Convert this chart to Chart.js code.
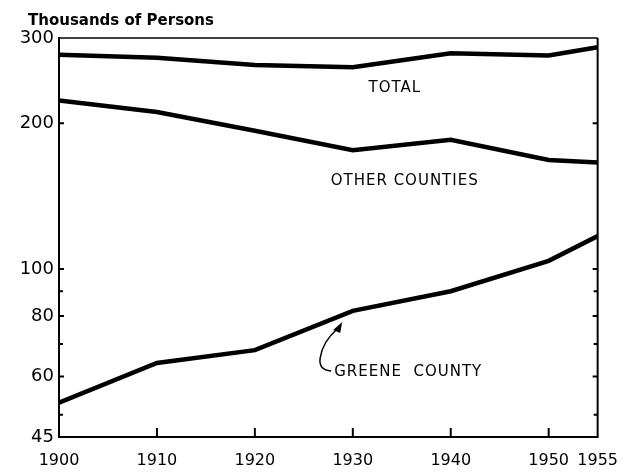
<!DOCTYPE html>
<html>
<head>
<meta charset="utf-8">
<script src="https://cdn.jsdelivr.net/npm/chart.js@4/dist/chart.umd.min.js"></script>
<style>
  html, body { margin: 0; padding: 0; background: #fff; }
  #wrap { width: 632px; height: 474px; }
</style>
</head>
<body>
<div id="wrap"><canvas id="myChart" width="632" height="474"></canvas></div>
<script>
// population, thousands of persons
const years = [1900, 1910, 1920, 1930, 1940, 1950, 1955];
const total = [277, 273, 264, 261, 279, 276, 287];
const otherCounties = [223, 211, 193, 176, 185, 168, 166];
const greeneCounty = [53, 64, 68, 82, 90, 104, 117];

const yTickValues = [45, 50, 60, 70, 80, 90, 100, 200, 300];
const yTickLabels = [45, 60, 80, 100, 200, 300];
const xTickValues = [1900, 1910, 1920, 1930, 1940, 1950, 1955];

// in-plot labels, positioned in data units
const seriesLabels = [
  { text: 'TOTAL', x: 1934.3, y: 236, align: 'center' },
  { text: 'OTHER COUNTIES', x: 1935.3, y: 152, align: 'center' },
  { text: 'GREENE  COUNTY', x: 1928.1, y: 61.3, align: 'left' }
];

const toPoints = (vals) => years.map((yr, i) => ({ x: yr, y: vals[i] }));

const lineStyle = {
  borderColor: '#000',
  borderWidth: 4.5,
  pointRadius: 0,
  tension: 0,
  fill: false
};

const chartDecor = {
  id: 'chartDecor',
  afterDraw(chart) {
    const ctx = chart.ctx;
    const area = chart.chartArea;
    const xs = chart.scales.x;
    const ys = chart.scales.y;
    ctx.save();
    ctx.strokeStyle = '#000';
    ctx.fillStyle = '#000';

    // top and right frame
    ctx.lineWidth = 1.5;
    ctx.beginPath();
    ctx.moveTo(area.left, area.top);
    ctx.lineTo(area.right, area.top);
    ctx.stroke();
    ctx.lineWidth = 2;
    ctx.beginPath();
    ctx.moveTo(area.right, area.top);
    ctx.lineTo(area.right, area.bottom + 1);
    ctx.stroke();

    // inward tick marks on both sides
    ctx.lineWidth = 2;
    yTickValues.forEach(v => {
      if (v === 45 || v === 300) return;
      const py = ys.getPixelForValue(v);
      const len = yTickLabels.includes(v) ? 5 : 4;
      ctx.beginPath();
      ctx.moveTo(area.left, py);
      ctx.lineTo(area.left + len, py);
      ctx.moveTo(area.right, py);
      ctx.lineTo(area.right - len, py);
      ctx.stroke();
    });
    xTickValues.forEach(v => {
      if (v === 1900 || v === 1955) return;
      const px = xs.getPixelForValue(v);
      ctx.beginPath();
      ctx.moveTo(px, area.bottom);
      ctx.lineTo(px, area.bottom - 9);
      ctx.stroke();
    });

    // title
    ctx.font = 'bold 15px "DejaVu Sans"';
    ctx.textAlign = 'left';
    ctx.textBaseline = 'alphabetic';
    ctx.fillText('Thousands of Persons', 28, 25);

    // series labels
    ctx.font = '15px "DejaVu Sans"';
    ctx.letterSpacing = '1px';
    ctx.textBaseline = 'middle';
    seriesLabels.forEach(l => {
      ctx.textAlign = l.align;
      ctx.fillText(l.text, xs.getPixelForValue(l.x), ys.getPixelForValue(l.y));
    });
    ctx.letterSpacing = '0px';

    // curved arrow from GREENE COUNTY to its line
    const g = seriesLabels[2];
    const ax = xs.getPixelForValue(g.x);
    const ay = ys.getPixelForValue(g.y);
    ctx.lineWidth = 1.5;
    ctx.beginPath();
    ctx.moveTo(ax - 3, ay - 1);
    ctx.quadraticCurveTo(ax - 16, ay - 2, ax - 14, ay - 14);
    ctx.quadraticCurveTo(ax - 12, ay - 30, ax + 4, ay - 44);
    ctx.stroke();
    ctx.beginPath();
    ctx.moveTo(ax + 8, ay - 50);
    ctx.lineTo(ax - 1, ay - 42);
    ctx.lineTo(ax + 6, ay - 39);
    ctx.closePath();
    ctx.fill();

    ctx.restore();
  }
};

const config = {
  type: 'line',
  data: {
    datasets: [
      { label: 'Total', data: toPoints(total), ...lineStyle },
      { label: 'Other Counties', data: toPoints(otherCounties), ...lineStyle },
      { label: 'Greene County', data: toPoints(greeneCounty), ...lineStyle }
    ]
  },
  options: {
    responsive: false,
    animation: false,
    layout: { padding: { top: 38, right: 30, left: 0, bottom: 0 } },
    scales: {
      x: {
        type: 'linear',
        min: 1900,
        max: 1955,
        afterBuildTicks: (scale) => { scale.ticks = xTickValues.map(v => ({ value: v })); },
        afterFit: (scale) => { scale.height = 37; },
        ticks: {
          autoSkip: false,
          maxRotation: 0,
          padding: 14,
          color: '#000',
          font: { family: '"DejaVu Sans"', size: 16 },
          callback: (v) => String(v)
        },
        grid: { display: false, drawTicks: false },
        border: { display: true, color: '#000', width: 2 }
      },
      y: {
        type: 'logarithmic',
        min: 45,
        max: 300,
        afterBuildTicks: (scale) => { scale.ticks = yTickValues.map(v => ({ value: v })); },
        afterFit: (scale) => { scale.width = 59; },
        ticks: {
          autoSkip: false,
          padding: 5,
          color: '#000',
          font: { family: '"DejaVu Sans"', size: 18 },
          callback: (v) => yTickLabels.includes(v) ? String(v) : ''
        },
        grid: { display: false, drawTicks: false },
        border: { display: true, color: '#000', width: 2 }
      }
    },
    plugins: {
      legend: { display: false },
      tooltip: { enabled: false }
    }
  },
  plugins: [chartDecor]
};

const ctx = document.getElementById('myChart').getContext('2d');
const chart = new Chart(ctx, config);
</script>
</body>
</html>
